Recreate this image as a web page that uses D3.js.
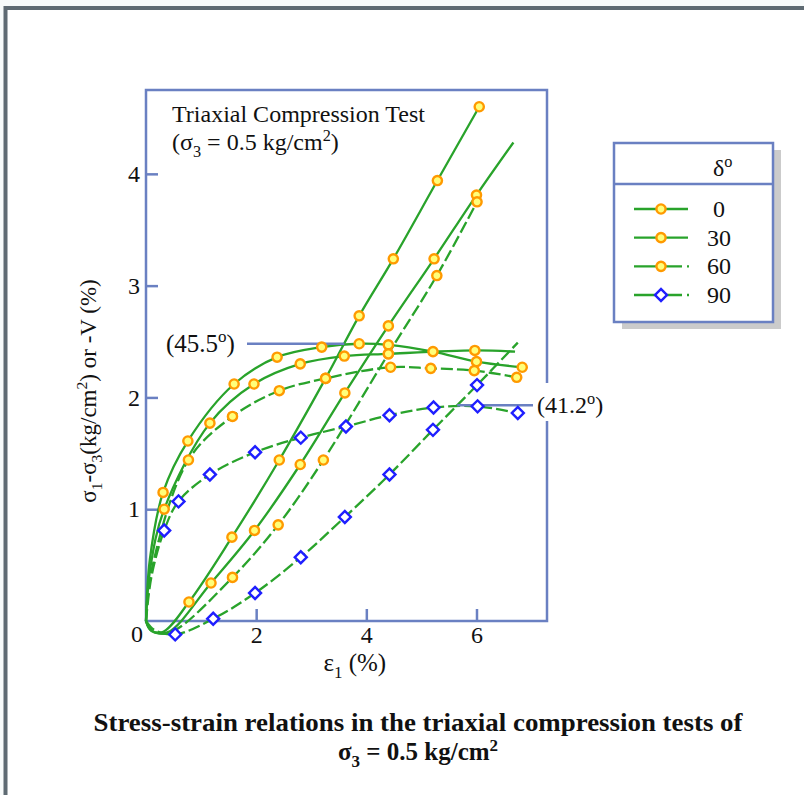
<!DOCTYPE html>
<html>
<head>
<meta charset="utf-8">
<script src="https://cdn.jsdelivr.net/npm/d3@7"></script>
<style>
body { margin: 0; background: #f8fbfb; }
svg { display: block; font-family: "Liberation Serif", "Times New Roman", serif; }
</style>
</head>
<body>
<div id="chart"></div>
<script>
// values: [strain %, value, 1 = marker drawn]
var xTicks = [2, 4, 6];
var yTicks = [1, 2, 3, 4];
var deltas = ["0", "30", "60", "90"];

var stress0 = [[0,0,0],[0.07,0.55,0],[0.31,1.15,1],[0.76,1.61,1],[1.60,2.12,1],[2.38,2.36,1],[3.19,2.45,1],[3.87,2.48,1],[4.40,2.47,1],[5.21,2.41,1],[6.00,2.32,1],[6.83,2.27,1]];
var stress30 = [[0,0,0],[0.08,0.48,0],[0.33,1.00,1],[1.16,1.77,1],[1.96,2.12,1],[2.80,2.30,1],[3.60,2.37,1],[4.40,2.39,1],[5.97,2.42,1],[6.70,2.41,0]];
var stress60 = [[0,0,0],[0.1,0.45,0],[0.77,1.44,1],[1.57,1.83,1],[2.42,2.06,1],[3.26,2.17,1],[4.44,2.27,1],[5.17,2.26,1],[5.96,2.24,1],[6.73,2.18,1]];
var stress90 = [[0,0,0],[0.1,0.4,0],[0.33,0.81,1],[0.59,1.07,1],[1.16,1.31,1],[1.98,1.51,1],[2.81,1.64,1],[3.63,1.74,1],[4.42,1.84,1],[5.22,1.91,1],[6.02,1.92,1],[6.75,1.86,1]];

var vol0 = [[0,0,0],[0.08,-0.08,0],[0.3,-0.1,0],[0.78,0.17,1],[1.56,0.75,1],[2.42,1.44,1],[3.26,2.17,1],[3.87,2.73,1],[4.49,3.24,1],[5.29,3.94,1],[6.05,4.60,1]];
var vol30 = [[0,0,0],[0.1,-0.09,0],[0.4,-0.1,0],[1.18,0.34,1],[1.97,0.81,1],[2.80,1.40,1],[3.61,2.04,1],[4.40,2.64,1],[5.23,3.24,1],[6.00,3.81,1],[6.67,4.28,0]];
var vol60 = [[0,0,0],[0.12,-0.09,0],[0.45,-0.1,0],[1.57,0.39,1],[2.40,0.86,1],[3.22,1.44,1],[4.40,2.39,1],[5.28,3.09,1],[6.01,3.75,1]];
var vol90 = [[0,0,0],[0.15,-0.08,0],[0.53,-0.12,1],[1.22,0.02,1],[1.98,0.25,1],[2.81,0.57,1],[3.61,0.93,1],[4.42,1.31,1],[5.21,1.71,1],[6.01,2.11,1],[6.75,2.49,0]];

var peakValues = [2.48, 1.93];

var green = "#29a32b", axisBlue = "#6a80c2", dashed = "12,4";

var series = [
    {pts: stress0, dash: null, mark: "circle"},
    {pts: stress30, dash: null, mark: "circle"},
    {pts: stress60, dash: dashed, mark: "circle"},
    {pts: stress90, dash: dashed, mark: "diamond"},
    {pts: vol0, dash: null, mark: "circle"},
    {pts: vol30, dash: null, mark: "circle"},
    {pts: vol60, dash: dashed, mark: "circle"},
    {pts: vol90, dash: dashed, mark: "diamond"}
];

var width = 804, height = 795;
var svg = d3.select("#chart").append("svg")
    .attr("width", width)
    .attr("height", height);

// outer frame
svg.append("rect")
    .attr("x", 5.5).attr("y", 8)
    .attr("width", 900).attr("height", 900)
    .attr("fill", "white")
    .attr("stroke", "#5f6b73")
    .attr("stroke-width", 4);

var x = d3.scaleLinear().domain([0, 7.28]).range([146, 547]);
var y = d3.scaleLinear().domain([0, 4.75]).range([621, 90]);

// sub / superscript helper
function rich(sel, parts, size) {
    var shift = 0;
    parts.forEach(function(p) {
        var target = p[1] == "sub" ? 0.28 * size : (p[1] == "sup" ? -0.38 * size : 0);
        sel.append("tspan")
            .attr("dy", target - shift)
            .style("font-size", p[1] ? (size * 0.68) + "px" : null)
            .text(p[0]);
        shift = target;
    });
    return sel;
}

// plot box
svg.append("rect")
    .attr("x", x(0)).attr("y", y(4.75))
    .attr("width", x(7.28) - x(0)).attr("height", y(0) - y(4.75))
    .attr("fill", "none")
    .attr("stroke", axisBlue)
    .attr("stroke-width", 2.5);

var xAxis = svg.append("g")
    .attr("transform", "translate(0," + y(0) + ")")
    .call(d3.axisBottom(x).tickValues(xTicks).tickFormat(d3.format("d")).tickSize(-12).tickPadding(5));
var yAxis = svg.append("g")
    .attr("transform", "translate(" + x(0) + ",0)")
    .call(d3.axisLeft(y).tickValues(yTicks).tickFormat(d3.format("d")).tickSize(-12).tickPadding(6));
[xAxis, yAxis].forEach(function(a) {
    a.attr("font-family", null).attr("font-size", null);
    a.select(".domain").remove();
    a.selectAll("line").attr("stroke", axisBlue).attr("stroke-width", 2.5);
    a.selectAll("text")
        .style("font-family", "'Liberation Serif', serif")
        .style("font-size", "24px")
        .attr("fill", "#111");
});
svg.append("text")
    .attr("x", x(0) - 9).attr("y", y(0) + 21)
    .attr("text-anchor", "middle")
    .style("font-size", "24px")
    .attr("fill", "#111")
    .text("0");

// axis titles
rich(svg.append("text")
    .attr("x", x(3.79)).attr("y", 671)
    .attr("text-anchor", "middle")
    .style("font-size", "25px")
    .attr("fill", "#111"), [["ε", ""], ["1", "sub"], [" (%)", ""]], 25);

rich(svg.append("text")
    .attr("transform", "translate(96,391) rotate(-90)")
    .attr("text-anchor", "middle")
    .style("font-size", "23px")
    .attr("fill", "#111"),
    [["σ", ""], ["1", "sub"], ["-σ", ""], ["3", "sub"], ["(kg/cm", ""], ["2", "sup"], [") or -V (%)", ""]], 23);

// test label
svg.append("text")
    .attr("x", 172).attr("y", 122)
    .style("font-size", "24px")
    .attr("fill", "#111")
    .text("Triaxial Compression Test");
rich(svg.append("text")
    .attr("x", 172).attr("y", 150)
    .style("font-size", "24px")
    .attr("fill", "#111"),
    [["(σ", ""], ["3", "sub"], [" = 0.5 kg/cm", ""], ["2", "sup"], [")", ""]], 24);

// curves
var line = d3.line()
    .x(function(d) { return x(d[0]); })
    .y(function(d) { return y(d[1]); })
    .curve(d3.curveCatmullRom.alpha(0.5));

svg.selectAll("path.curve")
    .data(series)
    .enter()
    .append("path")
    .attr("class", "curve")
    .attr("d", function(s) { return line(s.pts); })
    .attr("fill", "none")
    .attr("stroke", green)
    .attr("stroke-width", 2.3)
    .attr("stroke-dasharray", function(s) { return s.dash; });

// peak markers
svg.append("line")
    .attr("x1", 247).attr("x2", x(3.6))
    .attr("y1", y(peakValues[0])).attr("y2", y(peakValues[0]))
    .attr("stroke", axisBlue).attr("stroke-width", 2.5);
rich(svg.append("text")
    .attr("x", 166).attr("y", y(peakValues[0]) + 8)
    .style("font-size", "25px")
    .attr("fill", "#111"), [["(45.5", ""], ["o", "sup"], [")", ""]], 25);

svg.append("line")
    .attr("x1", x(5.65)).attr("x2", 533)
    .attr("y1", y(peakValues[1])).attr("y2", y(peakValues[1]))
    .attr("stroke", axisBlue).attr("stroke-width", 2.5);
svg.append("rect")
    .attr("x", 536).attr("y", 383).attr("width", 70).attr("height", 38)
    .attr("fill", "white");
rich(svg.append("text")
    .attr("x", 537).attr("y", y(peakValues[1]) + 8)
    .style("font-size", "24px")
    .attr("fill", "#111"), [["(41.2", ""], ["o", "sup"], [")", ""]], 24);

function drawMark(g, kind) {
    if (kind == "circle") {
        g.append("circle")
            .attr("r", 4.6)
            .attr("fill", "#ffff7a")
            .attr("stroke", "#ff9a00")
            .attr("stroke-width", 2.4);
    } else {
        g.append("path")
            .attr("d", d3.symbol(d3.symbolSquare, 72)())
            .attr("transform", "rotate(45)")
            .attr("fill", "white")
            .attr("stroke", "#1f1fff")
            .attr("stroke-width", 2.4);
    }
}

series.forEach(function(s) {
    s.pts.filter(function(d) { return d[2]; }).forEach(function(d) {
        var g = svg.append("g").attr("transform", "translate(" + x(d[0]) + "," + y(d[1]) + ")");
        drawMark(g, s.mark);
    });
});

// legend
var lg = svg.append("g");
lg.append("rect")
    .attr("x", 622).attr("y", 150).attr("width", 159).attr("height", 179)
    .attr("fill", "#cbcbcb");
lg.append("rect")
    .attr("x", 614).attr("y", 143).attr("width", 159).attr("height", 179)
    .attr("fill", "white")
    .attr("stroke", axisBlue).attr("stroke-width", 2.5);
lg.append("line")
    .attr("x1", 614).attr("x2", 773).attr("y1", 184).attr("y2", 184)
    .attr("stroke", axisBlue).attr("stroke-width", 2.5);
rich(lg.append("text")
    .attr("x", 713).attr("y", 176)
    .style("font-size", "24px")
    .attr("fill", "#111"), [["δ", ""], ["o", "sup"]], 24);

var rowY = d3.scalePoint().domain(deltas).range([209, 295]);
deltas.forEach(function(d, i) {
    var ry = rowY(d);
    var isDash = i >= 2;
    lg.append("line")
        .attr("x1", 634).attr("x2", isDash ? 689 : 688)
        .attr("y1", ry).attr("y2", ry)
        .attr("stroke", green).attr("stroke-width", 2.3)
        .attr("stroke-dasharray", isDash ? "48,5,2,5" : null);
    drawMark(lg.append("g").attr("transform", "translate(661," + ry + ")"), i == 3 ? "diamond" : "circle");
    lg.append("text")
        .attr("x", 719).attr("y", ry + 8)
        .attr("text-anchor", "middle")
        .style("font-size", "24px")
        .attr("fill", "#111")
        .text(d);
});

// caption
svg.append("text")
    .attr("x", 418).attr("y", 731)
    .attr("text-anchor", "middle")
    .attr("textLength", 649)
    .attr("lengthAdjust", "spacingAndGlyphs")
    .style("font-size", "25px")
    .style("font-weight", "bold")
    .attr("fill", "#111")
    .text("Stress-strain relations in the triaxial compression tests of");
rich(svg.append("text")
    .attr("x", 418).attr("y", 760)
    .attr("text-anchor", "middle")
    .style("font-size", "25px")
    .style("font-weight", "bold")
    .attr("fill", "#111"),
    [["σ", ""], ["3", "sub"], [" = 0.5 kg/cm", ""], ["2", "sup"]], 25);
</script>
</body>
</html>
